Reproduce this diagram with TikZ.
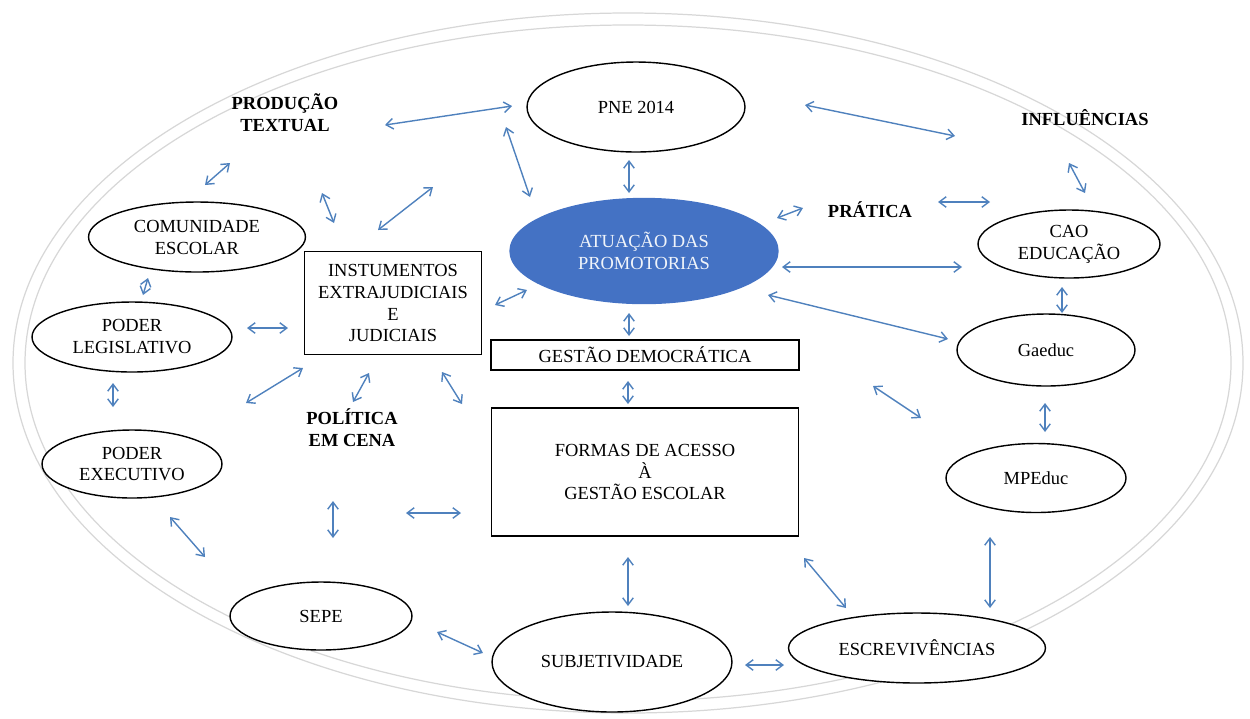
\documentclass[tikz,border=0pt]{standalone}
\usepackage{fontspec}
\setmainfont{Liberation Serif}
\usepackage{tikz}
\usetikzlibrary{shapes.geometric, arrows.meta}
\definecolor{linkblue}{RGB}{79,129,189}
\definecolor{fillblue}{RGB}{68,114,196}
\definecolor{rimgray}{RGB}{215,215,215}
\tikzstyle{oval} = [ellipse, draw=black, fill=white, line width=0.8pt, inner sep=0pt, align=center, font=\fontsize{10.5}{12.5}\selectfont]
\tikzstyle{box} = [rectangle, draw=black, fill=white, line width=0.8pt, inner sep=0pt, align=center, font=\fontsize{10.5}{12.5}\selectfont]
\tikzstyle{tag} = [align=center, inner sep=1pt, font=\fontsize{10.5}{12.5}\selectfont\bfseries]
\tikzstyle{link} = [linkblue, line width=0.8pt, {Straight Barb[length=4pt,width=6pt]}-{Straight Barb[length=4pt,width=6pt]}]
\tikzstyle{rim} = [rimgray, line width=0.7pt]

\begin{document}
\begin{tikzpicture}[x=0.02cm, y=-0.02cm]
                                \useasboundingbox (0,0) rectangle (1250,718);
                                % outer rings
                                \draw [rim] (628,363) ellipse [x radius=615, y radius=350];
                                \draw [rim] (628,363) ellipse [x radius=603, y radius=338];
                                % ovals and boxes
                                \node (pne) [oval, minimum width=4.36cm, minimum height=1.80cm] at (636,107) {PNE 2014};
                                \node (at) [oval, draw=fillblue, fill=fillblue, text=white!92!fillblue, minimum width=5.36cm, minimum height=2.10cm] at (644,251) {ATUAÇÃO DAS\\PROMOTORIAS};
                                \node (cao) [oval, minimum width=3.64cm, minimum height=1.36cm] at (1069,244) {CAO\\EDUCAÇÃO};
                                \node (gae) [oval, minimum width=3.56cm, minimum height=1.44cm] at (1046,350) {Gaeduc};
                                \node (mpe) [oval, minimum width=3.60cm, minimum height=1.38cm] at (1036,478) {MPEduc};
                                \node (esc) [oval, minimum width=5.14cm, minimum height=1.40cm] at (917,648) {ESCREVIVÊNCIAS};
                                \node (sub) [oval, minimum width=4.80cm, minimum height=2.00cm] at (612,662) {SUBJETIVIDADE};
                                \node (sep) [oval, minimum width=3.64cm, minimum height=1.36cm] at (321,616) {SEPE};
                                \node (exe) [oval, minimum width=3.60cm, minimum height=1.36cm] at (132,464) {PODER\\EXECUTIVO};
                                \node (leg) [oval, minimum width=4.00cm, minimum height=1.40cm] at (132,337) {PODER\\LEGISLATIVO};
                                \node (com) [oval, minimum width=4.34cm, minimum height=1.40cm] at (197,237) {COMUNIDADE\\ESCOLAR};
                                \node (ins) [box, minimum width=3.54cm, minimum height=2.06cm] at (393,303) {INSTUMENTOS\\EXTRAJUDICIAIS\\E\\JUDICIAIS};
                                \node (ges) [box, minimum width=6.16cm, minimum height=0.60cm] at (645,355) {GESTÃO DEMOCRÁTICA};
                                \node (for) [box, minimum width=6.14cm, minimum height=2.56cm] at (645,472) {FORMAS DE ACESSO\\À\\GESTÃO ESCOLAR};
                                % bold labels
                                \node (pro) [tag] at (285,113) {PRODUÇÃO\\TEXTUAL};
                                \node (inf) [tag] at (1085,118) {INFLUÊNCIAS};
                                \node (pra) [tag] at (870,210) {PRÁTICA};
                                \node (pol) [tag] at (352,428) {POLÍTICA\\EM CENA};
                                % double arrows
                                \foreach \n/\ax/\ay/\bx/\by in {
                                    1/385/125/512/106, 2/506/127/530/197, 3/629/160/629/193,
                                    4/805/105/955/136, 5/1069/163/1085/193, 6/938/202/990/202,
                                    7/777/218/803/208, 8/782/267/962/267, 9/768/295/948/339,
                                    10/1062/287/1062/313, 11/1045/403/1045/432, 12/873/386/921/418,
                                    13/990/537/990/608, 14/804/558/846/608, 15/745/665/784/665,
                                    16/628/557/628/606, 17/437/632/483/653, 18/406/513/461/513,
                                    19/333/501/333/538, 20/170/517/205/557, 21/113/383/113/407,
                                    22/246/403/303/368, 23/353/402/369/373, 24/442/372/462/404,
                                    25/628/381/628/404, 26/629/313/629/336, 27/495/305/527/290,
                                    28/247/328/288/328, 29/148/278/143/295, 30/205/185/230/163,
                                    31/322/193/334/223, 32/378/230/433/187}
                                {
                                    \coordinate (p\n a) at (\ax,\ay);
                                    \coordinate (p\n b) at (\bx,\by);
                                    \draw [link] (p\n a) -- (p\n b);
                                }
                            \end{tikzpicture}
\end{document}
